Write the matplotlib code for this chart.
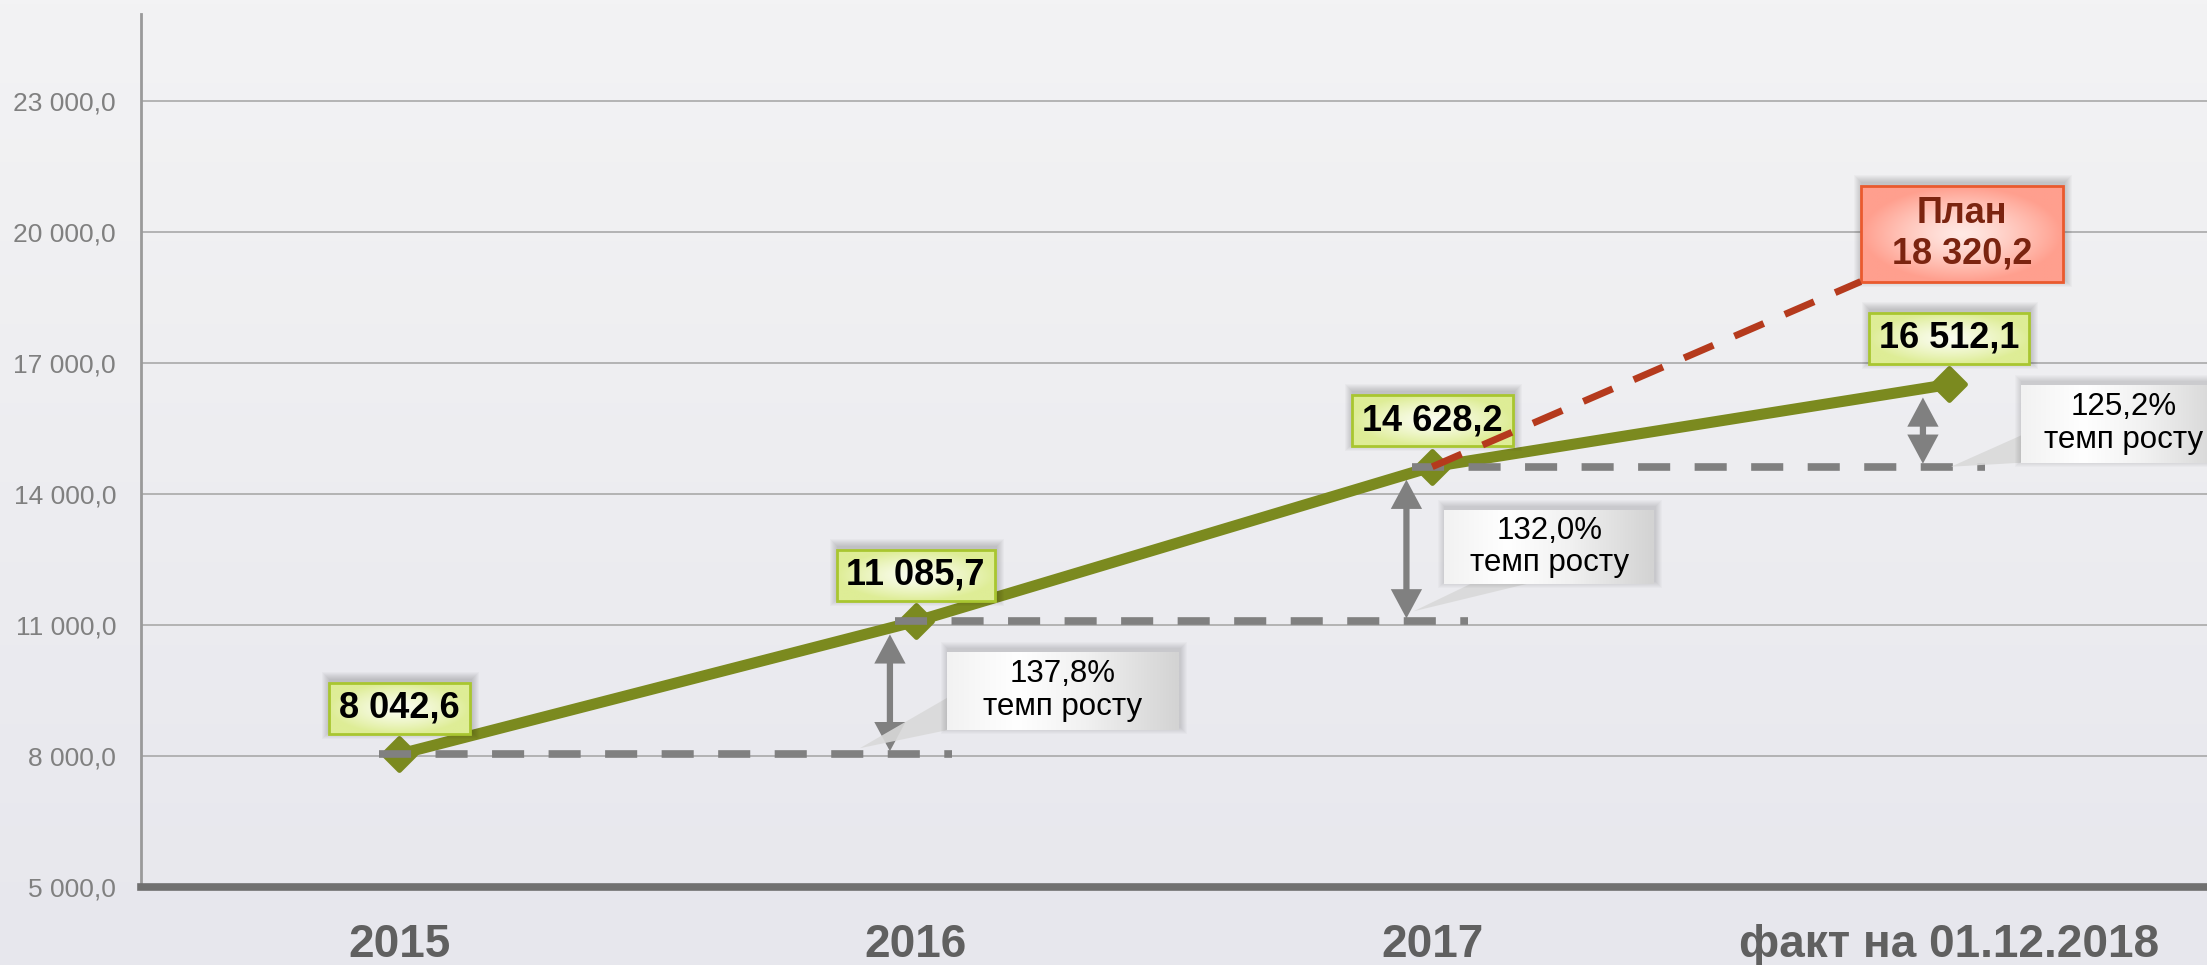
import numpy as np
import matplotlib
matplotlib.use('Agg')
import matplotlib.pyplot as plt
from matplotlib.patches import Rectangle, Polygon, FancyArrowPatch
from matplotlib.colors import to_rgb
from matplotlib.markers import MarkerStyle

# ---------------- data ----------------
categories = ['2015', '2016', '2017', 'факт на 01.12.2018']
fact_values = [8042.6, 11085.7, 14628.2, 16512.1]
plan_value = 18320.2
growth_rates = [137.8, 132.0, 125.2]
growth_caption = 'темп росту'
plan_caption = 'План'
y_ticks = [5000, 8000, 11000, 14000, 17000, 20000, 23000]


def fmt(v):
    return f"{v:,.1f}".replace(',', ' ').replace('.', ',')


plt.rcParams['font.family'] = ['Liberation Sans', 'DejaVu Sans']

W, H = 2207, 965
fig = plt.figure(figsize=(W / 100, H / 100), dpi=100)

# background gradient
bg = fig.add_axes([0, 0, 1, 1], zorder=-10)
g = np.linspace(0, 1, 256)[:, None, None]
top_c = np.array(to_rgb('#f3f3f4'))
bot_c = np.array(to_rgb('#e7e7ed'))
bg.imshow(top_c * (1 - g) + bot_c * g, aspect='auto', extent=[0, 1, 0, 1])
bg.axis('off')

# ---------------- main axes ----------------
L, B, T = 141, 78, 951
ax = fig.add_axes([L / W, B / H, 1 - L / W, (T - B) / H])
ax.patch.set_alpha(0)
ax.set_xlim(-0.5, 3.5)
ax.set_ylim(5000, 25000)
x = np.arange(len(categories))
ax.set_xticks(x, categories)
ax.set_yticks(y_ticks, [fmt(v) for v in y_ticks])
ax.grid(axis='y', color='#a9a9a9', lw=1.2)
ax.set_axisbelow(True)
for s in ['top', 'right']:
    ax.spines[s].set_visible(False)
ax.spines['left'].set_color('#9a9a9a')
ax.spines['left'].set_linewidth(2)
ax.spines['bottom'].set_color('#707070')
ax.spines['bottom'].set_linewidth(5.5)
ax.tick_params(axis='both', length=0)
ax.tick_params(axis='y', labelsize=19, labelcolor='#808080', pad=18)
ax.tick_params(axis='x', labelsize=33, labelcolor='#606060', pad=26)
for lbl in ax.get_xticklabels():
    lbl.set_fontweight('bold')

olive = '#7b8a1f'
ax.plot(x, fact_values, color=olive, lw=8, solid_joinstyle='round',
        solid_capstyle='round',
        marker=MarkerStyle('D', joinstyle='round'), ms=16, mec=olive, mew=3.5,
        zorder=4, clip_on=False)

# dashed previous-level lines
for i in range(len(fact_values) - 1):
    ax.plot([x[i] - 0.04, x[i + 1] + 0.07], [fact_values[i], fact_values[i]],
            color='#808080', lw=5.5, dashes=(4.2, 3.2), dash_capstyle='butt',
            zorder=5, clip_on=False)

# ---------------- overlay in pixel coords ----------------
ov = fig.add_axes([0, 0, 1, 1], zorder=5)
ov.patch.set_alpha(0)
ov.axis('off')
renderer = fig.canvas.get_renderer()


def px(xv, yv):
    return ax.transData.transform((xv, yv))


def shadow(x0, y0, w, h, z, off=(1, 1), n=8, a=0.022):
    for k in range(1, n + 1):
        ov.add_patch(Rectangle((x0 + off[0] - k, y0 + off[1] - k), w + 2 * k, h + 2 * k,
                               fc='black', ec='none', alpha=a, zorder=z))


def radial_box(x0, y0, w, h, c_in, c_out, ec, lw, z, power=1.3):
    n = 80
    yy, xx = np.mgrid[-1:1:n * 1j, -1:1:n * 1j]
    t = np.clip(np.sqrt(xx ** 2 + yy ** 2), 0, 1) ** power
    ci, co = np.array(to_rgb(c_in)), np.array(to_rgb(c_out))
    img = ci * (1 - t[..., None]) + co * t[..., None]
    ov.imshow(img, extent=[x0, x0 + w, y0, y0 + h], origin='lower', aspect='auto',
              interpolation='bilinear', zorder=z)
    ov.add_patch(Rectangle((x0, y0), w, h, fc='none', ec=ec, lw=lw, zorder=z + 0.1))


def linear_box(x0, y0, w, h, z):
    n = 120
    t = np.linspace(0, 1, n)
    stops_t = [0, 0.3, 0.6, 1]
    stops_c = [to_rgb('#f2f2f2'), to_rgb('#ffffff'), to_rgb('#f1f1f1'), to_rgb('#d3d3d3')]
    row = np.stack([np.interp(t, stops_t, [c[k] for c in stops_c]) for k in range(3)], axis=-1)
    img = np.repeat(row[None, :, :], 4, axis=0)
    ov.imshow(img, extent=[x0, x0 + w, y0, y0 + h], origin='lower', aspect='auto',
              interpolation='bilinear', zorder=z)


# fact value labels
label_up = 46
for i, v in enumerate(fact_values):
    cx, cy = px(x[i], v)
    cy += label_up
    t = ov.text(cx, cy, fmt(v), ha='center', va='center', fontsize=26,
                fontweight='bold', color='black', zorder=12)
    bb = t.get_window_extent(renderer)
    w, h = bb.width + 20, 51
    shadow(cx - w / 2, cy - h / 2, w, h, 10, off=(1, 3))
    radial_box(cx - w / 2, cy - h / 2, w, h, '#fbfdf1', '#deed96', '#a9c630', 2, 11)

# plan label and dashed plan line
pcx, pcy = px(x[-1], plan_value)
pcx += 13
pcy += 72
pw, ph = 202, 96
shadow(pcx - pw / 2, pcy - ph / 2, pw, ph, 10, off=(1, 3))
radial_box(pcx - pw / 2, pcy - ph / 2, pw, ph, '#ffe9e4', '#ff9f8e', '#ea5a2e', 2, 11)
ov.text(pcx, pcy, f"{plan_caption}\n{fmt(plan_value)}", ha='center', va='center',
        fontsize=26, fontweight='bold', color='#7b2410', linespacing=1.2, zorder=12)
sx, sy = px(x[2], fact_values[2])
ov.plot([sx, pcx - pw / 2], [sy, pcy - ph / 2], color='#b53a1d', lw=5,
        dashes=(4.6, 3.3), dash_capstyle='butt', zorder=13)

# growth arrows and callouts
arrow_dx = -0.05
callout_dx = [57, 38, 98]
callout_dy = [-3, -3, 2]
callout_w = [232, 210, 206]
callout_h = [78, 74, 78]
for i, r in enumerate(growth_rates):
    xa, ylo = px(x[i + 1] + arrow_dx, fact_values[i])
    _, yhi = px(x[i + 1] + arrow_dx, fact_values[i + 1])
    arr = FancyArrowPatch((xa, ylo + 3), (xa, yhi - 13),
                          arrowstyle='<|-|>,head_length=14,head_width=7.5',
                          mutation_scale=1, color='#808080', lw=4.5, shrinkA=0, shrinkB=0,
                          joinstyle='miter', capstyle='butt', zorder=8)
    ov.add_patch(arr)
    w, h = callout_w[i], callout_h[i]
    bx0 = xa + callout_dx[i]
    by0 = (ylo + yhi) / 2 + callout_dy[i] - h / 2
    # pointer wedge
    if i == 0:
        pts = [(xa - 30, ylo + 6), (bx0 + 2, by0), (bx0 + 2, by0 + 33)]
    elif i == 1:
        pts = [(xa + 7, ylo + 10), (bx0 + 30, by0 + 2), (bx0 + 90, by0 + 2)]
    else:
        pts = [(xa + 28, ylo), (bx0 + 2, by0), (bx0 + 2, by0 + 28)]
    ov.add_patch(Polygon(pts, closed=True, fc='#d9d9d9', ec='none', alpha=0.9, zorder=9))
    shadow(bx0, by0, w, h, 9.5, off=(1, 3), n=7, a=0.02)
    linear_box(bx0, by0, w, h, 10)
    ov.text(bx0 + w / 2, by0 + h / 2, f"{r:.1f}%".replace('.', ',') + "\n" + growth_caption,
            ha='center', va='center', fontsize=22.5, color='black', linespacing=1.12, zorder=12)

ov.set_xlim(0, W)
ov.set_ylim(0, H)

fig.savefig('out.png', dpi=100)
